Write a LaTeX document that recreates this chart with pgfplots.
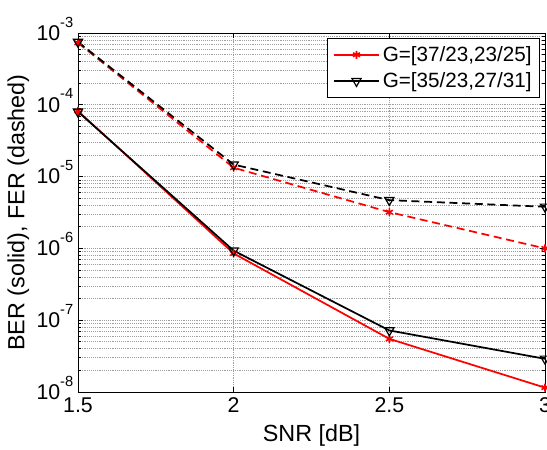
\documentclass[border=0pt]{standalone}
\usepackage{fontspec}
\setmainfont{Liberation Sans}
\usepackage{pgfplots}
\pgfplotsset{compat=1.18}

% 1 px of the reference = 0.75pt
\newcommand{\tenpow}[1]{10\smash{\raisebox{0.62em}{\fontsize{11}{11}\selectfont #1}}}
\begin{document}
\begin{tikzpicture}
\begin{semilogyaxis}[
  name=ax,
  scale only axis,
  width=350.25pt, height=269.25pt,
  xmin=1.5, xmax=3, ymin=1e-8, ymax=1e-3,
  xtick={1.5,2,2.5,3},
  xticklabels={1.5,2,2.5,3},
  ytick={1e-8,1e-7,1e-6,1e-5,1e-4,1e-3},
  yticklabels={\tenpow{-8},\tenpow{-7},\tenpow{-6},\tenpow{-5},\tenpow{-4},\tenpow{-3}},
  minor ytick={2e-8,3e-8,4e-8,5e-8,6e-8,7e-8,8e-8,9e-8,
               2e-7,3e-7,4e-7,5e-7,6e-7,7e-7,8e-7,9e-7,
               2e-6,3e-6,4e-6,5e-6,6e-6,7e-6,8e-6,9e-6,
               2e-5,3e-5,4e-5,5e-5,6e-5,7e-5,8e-5,9e-5,
               2e-4,3e-4,4e-4,5e-4,6e-4,7e-4,8e-4,9e-4},
  tick align=inside,
  major tick length=4pt, minor tick length=2.5pt,
  xmajorgrids, ymajorgrids, yminorgrids,
  grid style={densely dotted, gray!75, line width=0.5pt},
  axis line style={line width=0.6pt},
  every tick/.style={black, line width=0.5pt},
  tick label style={font=\fontsize{16}{18}\selectfont},
  xticklabel style={yshift=-1pt},
  xlabel={SNR [dB]},
  ylabel={BER (solid), FER (dashed)},
  label style={font=\fontsize{17.5}{20}\selectfont},
  xlabel style={at={(axis description cs:0.5,-0.12)}, anchor=center},
  ylabel style={at={(axis description cs:-0.128,0.5)}, anchor=center, rotate=0},
  legend style={at={(axis description cs:0.989,0.986)}, anchor=north east,
    draw=black, font=\fontsize{15.5}{18}\selectfont,
    row sep=3pt, inner xsep=4pt, inner ysep=4pt},
  legend cell align=left,
  legend image code/.code={\draw[mark repeat=2,mark phase=2] plot coordinates {(0cm,0cm) (0.6cm,0cm) (1.2cm,0cm)};},
]
\addplot[red, line width=1.3pt, mark=asterisk, mark size=3pt, mark options={solid, line width=1.2pt}]
  coordinates {(1.5,8.2e-5) (2,8.5e-7) (2.5,5.5e-8) (3,1.15e-8)};
\addlegendentry{G=[37/23,23/25]}
\addplot[red, line width=1.3pt, dash pattern=on 6pt off 3.5pt, mark=asterisk, mark size=3pt, mark options={solid, line width=1.2pt}, forget plot]
  coordinates {(1.5,7.3e-4) (2,1.33e-5) (2.5,3.2e-6) (3,1.0e-6)};
\addplot[black, line width=1.3pt, mark=triangle, mark size=4pt, mark options={solid, rotate=180, line width=0.9pt, fill=none}]
  coordinates {(1.5,8.0e-5) (2,9.3e-7) (2.5,7.2e-8) (3,2.9e-8)};
\addlegendentry{G=[35/23,27/31]}
\addplot[black, line width=1.3pt, dash pattern=on 6pt off 3.5pt, mark=triangle, mark size=4pt, mark options={solid, rotate=180, line width=0.9pt, fill=none}, forget plot]
  coordinates {(1.5,7.5e-4) (2,1.47e-5) (2.5,4.7e-6) (3,3.8e-6)};
\node[font=\fontsize{10.5}{12}\selectfont] at (axis description cs:0.465,1.053) {L=320 M4-M4};
\end{semilogyaxis}
\pgfresetboundingbox
\path ([shift={(-58.5pt,-43.5pt)}]ax.south west) rectangle ++(410.25pt,337.5pt);
\end{tikzpicture}
\end{document}
